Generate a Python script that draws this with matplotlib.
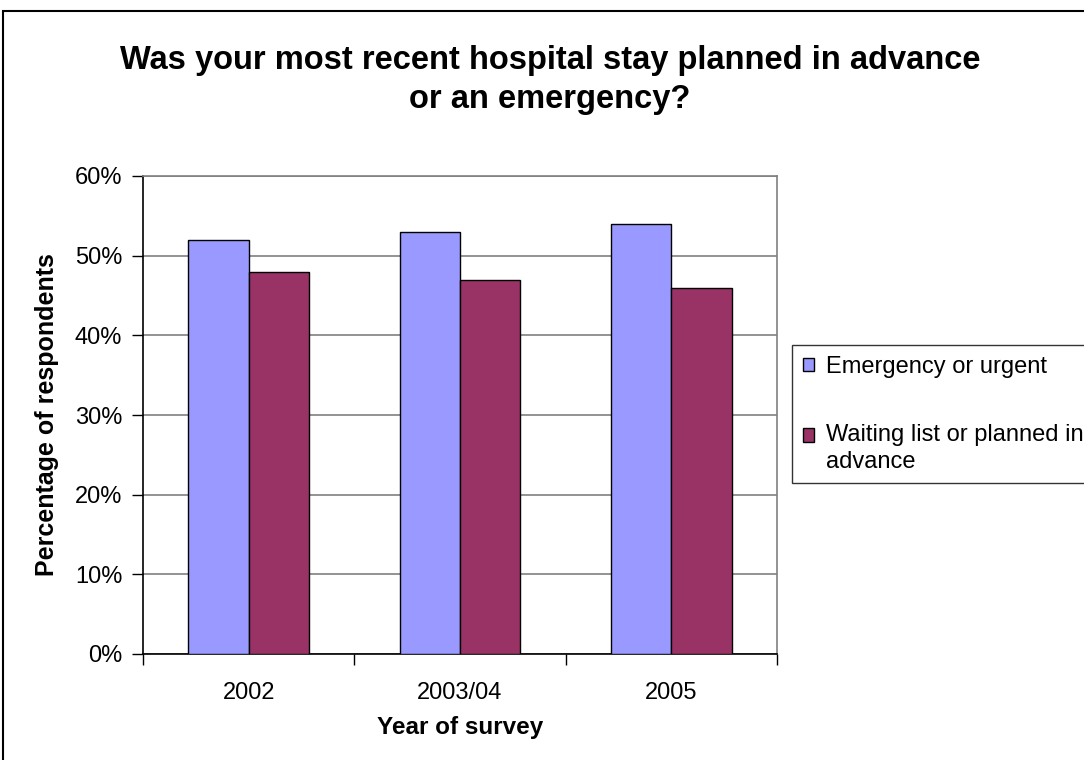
import matplotlib
matplotlib.use("Agg")
import matplotlib.pyplot as plt
import numpy as np
from matplotlib.patches import Rectangle

categories = ["2002", "2003/04", "2005"]
emergency = [52, 53, 54]
waiting = [48, 47, 46]
series_names = ["Emergency or urgent", "Waiting list or planned in\nadvance"]
yticks = [0, 10, 20, 30, 40, 50, 60]

plt.rcParams['font.family'] = ['Liberation Sans', 'DejaVu Sans']

W, H = 1084, 760
fig = plt.figure(figsize=(W/100, H/100), dpi=100)
fig.patch.set_facecolor('white')

# outer chart border (extends beyond the right/bottom edges)
fig.patches.append(Rectangle((3/W, -0.05), 1.2, 1 - 11/H + 0.05, transform=fig.transFigure,
                             fill=False, edgecolor='black', linewidth=1.5))

L, R, T, B = 143, 777, 176, 654
ax = fig.add_axes([L/W, 1 - B/H, (R-L)/W, (B-T)/H])

x = np.arange(len(categories))
bw = 1/3.5
ax.bar(x - bw/2, emergency, width=bw, color='#9999ff', edgecolor='black', linewidth=1, zorder=3,
       label=series_names[0])
ax.bar(x + bw/2, waiting, width=bw, color='#993366', edgecolor='black', linewidth=1, zorder=3,
       label=series_names[1])

ax.set_xlim(-0.5, len(categories) - 0.5)
ax.set_ylim(0, 60)
ax.set_yticks(yticks)
ax.set_yticklabels([f"{v}%" for v in yticks], fontsize=17)
ax.yaxis.grid(True, color='#808080', linewidth=1.2, zorder=0)
ax.set_axisbelow(True)

ax.set_xticks(np.arange(-0.5, len(categories), 1.0), minor=False)
ax.set_xticklabels([])
ax.set_xticks(x, minor=True)
ax.set_xticklabels(categories, minor=True, fontsize=17)
ax.tick_params(axis='x', which='major', direction='out', length=8, width=1)
ax.tick_params(axis='x', which='minor', length=0, pad=20)
ax.tick_params(axis='y', direction='out', length=8, width=1, pad=7)

for s in ['top', 'right']:
    ax.spines[s].set_color('#808080')
    ax.spines[s].set_linewidth(1.2)
for s in ['left', 'bottom']:
    ax.spines[s].set_color('black')
    ax.spines[s].set_linewidth(1.2)

ax.set_xlabel("Year of survey", fontsize=17.5, fontweight='bold', labelpad=9)
ax.set_ylabel("Percentage of respondents", fontsize=18, fontweight='bold', labelpad=11)

fig.text(550/W, 1 - 80/H, "Was your most recent hospital stay planned in advance\nor an emergency?",
         ha='center', va='center', fontsize=23.5, fontweight='bold', linespacing=1.32)

leg = ax.legend(loc='upper left', bbox_to_anchor=(792/W, 1 - 345/H), bbox_transform=fig.transFigure,
                fontsize=17, frameon=True, fancybox=False, edgecolor='black', handlelength=0.5,
                handleheight=0.5, handletextpad=0.47, borderpad=0.45, labelspacing=1.95, borderaxespad=0)
leg.get_frame().set_linewidth(1)
for t in leg.get_texts():
    t.set_linespacing(1.3)
# align the second swatch with the first line of its two-line label
h2 = leg.legend_handles[1]
h2.set_y(h2.get_y() + 9.5)

fig.savefig("out.png", dpi=100)
